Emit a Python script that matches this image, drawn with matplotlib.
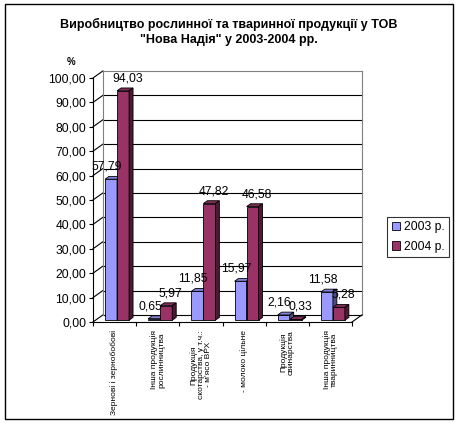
import numpy as np
import matplotlib.pyplot as plt
from matplotlib.patches import Polygon, Rectangle
from matplotlib.colors import to_rgb

categories = ["Зернові і зернобобові",
              "Інша продукція\nрослинництва",
              "Продукція\nскотарства, у т.ч.:\n- м'ясо ВРХ",
              "- молоко цільне",
              "Продукція\nсвинарства",
              "Інша продукція\nтваринництва"]
vals_2003 = [57.79, 0.65, 11.85, 15.97, 2.16, 11.58]
vals_2004 = [94.03, 5.97, 47.82, 46.58, 0.33, 5.28]
series_names = ["2003 р.", "2004 р."]
y_ticks = np.arange(0, 101, 10)

plt.rcParams['font.family'] = ['Liberation Sans', 'DejaVu Sans']

DX, DY = 0.23, 2.9      # depth of the 3d box (data units)
F0, F1 = 0.25, 0.65     # front / back depth of the bars
BW = 0.278              # bar width
colors = ['#9999FF', '#993366']


def shade(c, k):
    r, g, b = to_rgb(c)
    return (r*k, g*k, b*k)


def fmt(v):
    return f"{v:.2f}".replace('.', ',')


fig = plt.figure(figsize=(4.58, 4.23), dpi=100)
ax = fig.add_axes([93/458, 1-322/423, 259/458, 244/423])
ax.set_xlim(0, 6)
ax.set_ylim(0, 100)
n = len(categories)

# back wall + grid
for t in y_ticks:
    ax.plot([0, DX], [t, t+DY], color='black', lw=0.8, clip_on=False, zorder=1)
    col = '#808080' if t == 100 else 'black'
    ax.plot([DX, n+DX], [t+DY, t+DY], color=col, lw=0.8, clip_on=False, zorder=1)
ax.plot([DX, DX], [DY, 100+DY], color='#808080', lw=0.8, clip_on=False, zorder=1)
ax.plot([n+DX, n+DX], [DY, 100+DY], color='#808080', lw=0.8, clip_on=False, zorder=1)
ax.plot([n, n+DX], [0, DY], color='black', lw=0.8, clip_on=False, zorder=1)

z = 3
for i in range(n):
    for s, vals in enumerate([vals_2003, vals_2004]):
        v = vals[i]
        x0 = i + 0.5 + (s-1)*BW + F0*DX
        x1 = x0 + BW
        b = F0*DY
        top = v + b
        d = F1 - F0
        ax.bar(x0, v, BW, bottom=b, align='edge', color=colors[s],
               edgecolor='black', lw=0.6, zorder=z, clip_on=False,
               label=series_names[s] if i == 0 else None)
        ax.add_patch(Polygon([(x0, top), (x1, top), (x1+d*DX, top+d*DY), (x0+d*DX, top+d*DY)],
                             closed=True, fc=shade(colors[s], 0.85), ec='black', lw=0.6,
                             zorder=z, clip_on=False))
        ax.add_patch(Polygon([(x1, b), (x1+d*DX, b+d*DY), (x1+d*DX, top+d*DY), (x1, top)],
                             closed=True, fc=shade(colors[s], 0.5), ec='black', lw=0.6,
                             zorder=z, clip_on=False))
        z += 1
        shift = -3 if s == 0 else 3
        ax.annotate(fmt(v), (x0 + BW/2, top), xytext=(shift, 9), textcoords='offset points',
                    ha='center', va='center', fontsize=8.7, zorder=50)

# axes
for sp in ['top', 'right']:
    ax.spines[sp].set_visible(False)
ax.spines['left'].set_linewidth(0.8)
ax.spines['bottom'].set_linewidth(0.8)
ax.set_yticks(y_ticks, [fmt(t) for t in y_ticks], fontsize=8.7)
ax.tick_params(axis='y', length=3, width=0.8, pad=2)
ax.set_xticks(np.arange(n+1), [''] * (n+1))
ax.tick_params(axis='x', which='major', length=3, width=0.8)
ax.set_xticks(np.arange(n) + 0.5, categories, minor=True)
ax.tick_params(axis='x', which='minor', length=0, pad=6)
for lab in ax.get_xticklabels(minor=True):
    lab.set_rotation(90)
    lab.set_fontsize(6)
    lab.set_multialignment('center')
    lab.set_linespacing(1.1)

fig.text(0.155, 1-62/423, '%', fontsize=7, fontweight='bold', ha='center', va='center')
fig.text(0.5, 1-32/423, 'Виробництво рослинної та тваринної продукції у ТОВ\n"Нова Надія" у 2003-2004 рр.',
         fontsize=9, fontweight='bold', ha='center', va='center', linespacing=1.3)

leg = fig.legend(loc='center', bbox_to_anchor=(418/458, 1-237/423), fontsize=8.7,
                 frameon=True, fancybox=False, edgecolor='black', handlelength=0.7,
                 handleheight=0.7, handletextpad=0.3, borderpad=0.35, labelspacing=0.6,
                 borderaxespad=0)
leg.get_frame().set_linewidth(0.8)

fig.patches.append(Rectangle((5/458, 4/423), 448/458, 415/423, transform=fig.transFigure,
                             fill=False, ec='black', lw=1))

fig.savefig('out.png', dpi=100)
